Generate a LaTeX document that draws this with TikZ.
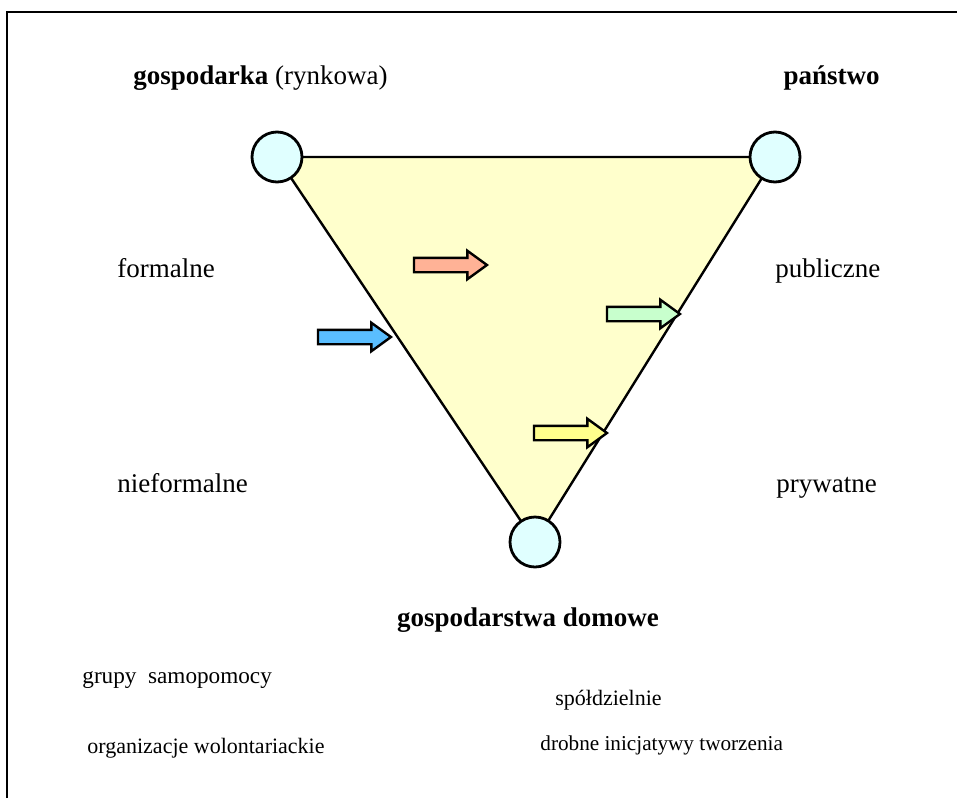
\documentclass[tikz,border=0pt]{standalone}
\usepackage{fontspec}
\setmainfont{Liberation Serif}
\usetikzlibrary{shapes.arrows}
\definecolor{tri}{RGB}{255,255,204}
\definecolor{knot}{RGB}{224,255,255}
\definecolor{fsalmon}{RGB}{255,178,150}
\definecolor{fsky}{RGB}{90,190,255}
\definecolor{fmint}{RGB}{200,255,205}
\definecolor{flemon}{RGB}{255,255,140}

\begin{document}
\begin{tikzpicture}[x=0.5pt,y=-0.5pt,
    vert/.style={circle,draw,line width=1.4pt,fill=knot,minimum size=25pt,inner sep=0pt},
    lab/.style={anchor=base west,inner sep=0pt,font=\fontsize{13.5}{16}\selectfont},
    note/.style={anchor=base west,inner sep=0pt,font=\fontsize{11}{13}\selectfont},
    flow/.style={single arrow,draw,line width=1.2pt,inner sep=3pt,minimum height=36.5pt,
        single arrow head extend=3.5pt,single arrow tip angle=72,anchor=tip}]
\useasboundingbox (0,0) rectangle (957,798);
\draw[line width=1pt] (7,798) -- (7,12) -- (957,12);

\coordinate (mkt) at (277,157);
\coordinate (st) at (775,157);
\coordinate (hh) at (535,542);
\filldraw[fill=tri,line width=1.2pt] (mkt) -- (st) -- (hh) -- cycle;
\node[vert] (mktc) at (mkt) {};
\node[vert] (stc) at (st) {};
\node[vert] (hhc) at (hh) {};

% flows
\node[flow,fill=fsalmon] (fred) at (489,265) {};
\node[flow,fill=fsky] (fblue) at (393,337) {};
\node[flow,fill=fmint] (fgreen) at (682,314) {};
\node[flow,fill=flemon] (fyel) at (609,433) {};

% labels
\node[lab] (tmkt) at (133,84) {\textbf{gospodarka} (rynkowa)};
\node[lab,anchor=base east] (tst) at (880,84) {\textbf{państwo}};
\node[lab,anchor=base] (thh) at (528,626) {\textbf{gospodarstwa domowe}};
\node[lab] (tform) at (117,277) {formalne};
\node[lab] (tinf) at (117,492) {nieformalne};
\node[lab] (tpub) at (775,277) {publiczne};
\node[lab] (tpriv) at (776,492) {prywatne};
\node[note,font=\fontsize{11.6}{13}\selectfont] (tgr) at (82,683) {grupy\ \ samopomocy};
\node[note] (torg) at (87,753) {organizacje wolontariackie};
\node[note] (tsp) at (555,705) {spółdzielnie};
\node[note,font=\fontsize{10.6}{13}\selectfont] (tdr) at (540,750) {drobne inicjatywy tworzenia};
\end{tikzpicture}
\end{document}
